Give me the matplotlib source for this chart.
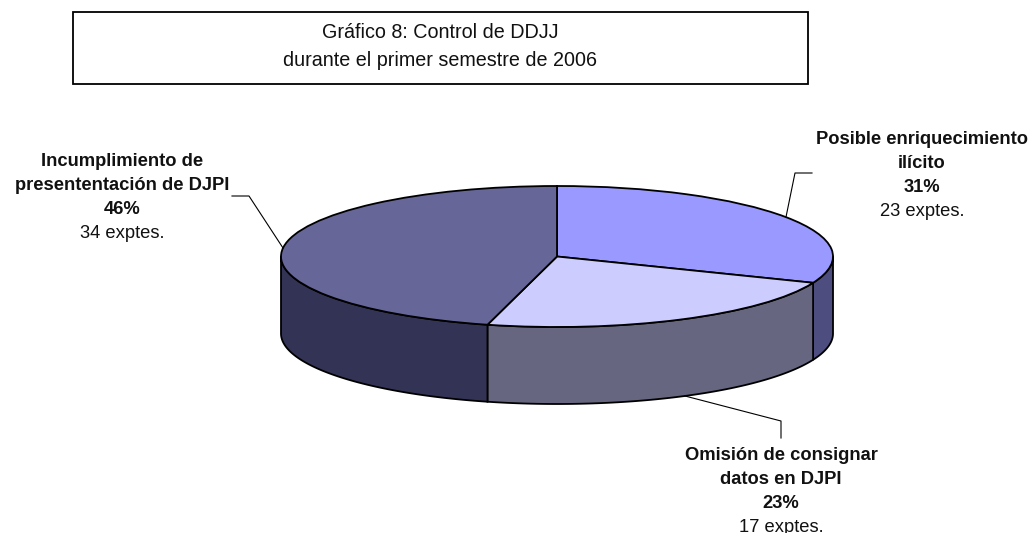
import numpy as np
import matplotlib
matplotlib.use('Agg')
import matplotlib.pyplot as plt

# Data
categories = ['Posible enriquecimiento\nilícito', 'Omisión de consignar\ndatos en DJPI', 'Incumplimiento de\npresententación de DJPI']
expedientes = [23, 17, 34]
top_colors = ['#9999FF', '#CCCCFF', '#666699']
side_colors = ['#4D4D80', '#666680', '#333355']

W, H = 1034, 533
plt.rcParams['font.family'] = ['Liberation Sans', 'DejaVu Sans']
fig = plt.figure(figsize=(W / 100, H / 100), dpi=100)

# overlay in pixel coords for the title box, labels and leader lines
over = fig.add_axes([0, 0, 1, 1], zorder=2)
over.set_xlim(0, W)
over.set_ylim(H, 0)
over.axis('off')
over.patch.set_alpha(0)

# pie axes: unit circle squashed to the ellipse of the top face
left, right, top, mid, bottom = 281, 833, 186, 327, 404
depth = (bottom - mid) / ((mid - top) / 2)
ax = fig.add_axes([left / W, 1 - bottom / H, (right - left) / W, (bottom - top) / H], zorder=1)
ax.axis('off')

wedges, _ = ax.pie(expedientes, colors=top_colors, startangle=90, counterclock=False,
                   wedgeprops={'edgecolor': 'black', 'linewidth': 1.3, 'zorder': 3, 'clip_on': False})
ax.set_aspect('auto')
ax.set_xlim(-1, 1)
ax.set_ylim(-1 - depth, 1)

# side wall of the front half, one piece per slice
for w, col in zip(wedges, side_colors):
    a = max(w.theta1 % 360 if w.theta1 % 360 >= 180 else 180, 180)
    b = w.theta2 % 360
    if b < 180:
        b = 360
    t = np.radians(np.linspace(a, b, 80))
    xs = np.r_[np.cos(t), np.cos(t[::-1])]
    ys = np.r_[np.sin(t), np.sin(t[::-1]) - depth]
    ax.fill(xs, ys, facecolor=col, edgecolor='black', linewidth=1.3, zorder=2, clip_on=False)

# title box
over.add_patch(plt.Rectangle((73, 12), 735, 72, facecolor='white', edgecolor='black', linewidth=1.3))
over.text(440, 32, 'Gráfico 8: Control de DDJJ', ha='center', va='center', fontsize=14.2, color='#111111')
over.text(440, 61, 'durante el primer semestre de 2006', ha='center', va='center', fontsize=14.2, color='#111111')

# labels
total = sum(expedientes)
label_pos = [(922, [139, 163, 187, 211]), (781, [456, 480, 504, 528]), (122, [162, 186, 210, 233])]
for cat, n, (x, ys) in zip(categories, expedientes, label_pos):
    l1, l2 = cat.split('\n')
    over.text(x, ys[0], l1, ha='center', va='center', fontsize=13.2, fontweight='bold', color='#111111')
    over.text(x, ys[1], l2, ha='center', va='center', fontsize=13.2, fontweight='bold', color='#111111')
    over.text(x, ys[2], f'{round(100 * n / total)}%', ha='center', va='center', fontsize=13.2, fontweight='bold', color='#111111')
    over.text(x, ys[3], f'{n} exptes.', ha='center', va='center', fontsize=13.2, color='#111111')

# leader lines
over.plot([232, 249, 283], [196, 196, 248], color='black', lw=0.8)
over.plot([812, 795, 786], [173, 173, 217], color='black', lw=0.8)
over.plot([781, 781, 685], [438, 421, 396], color='black', lw=0.8)

fig.savefig('out.png', dpi=100)
